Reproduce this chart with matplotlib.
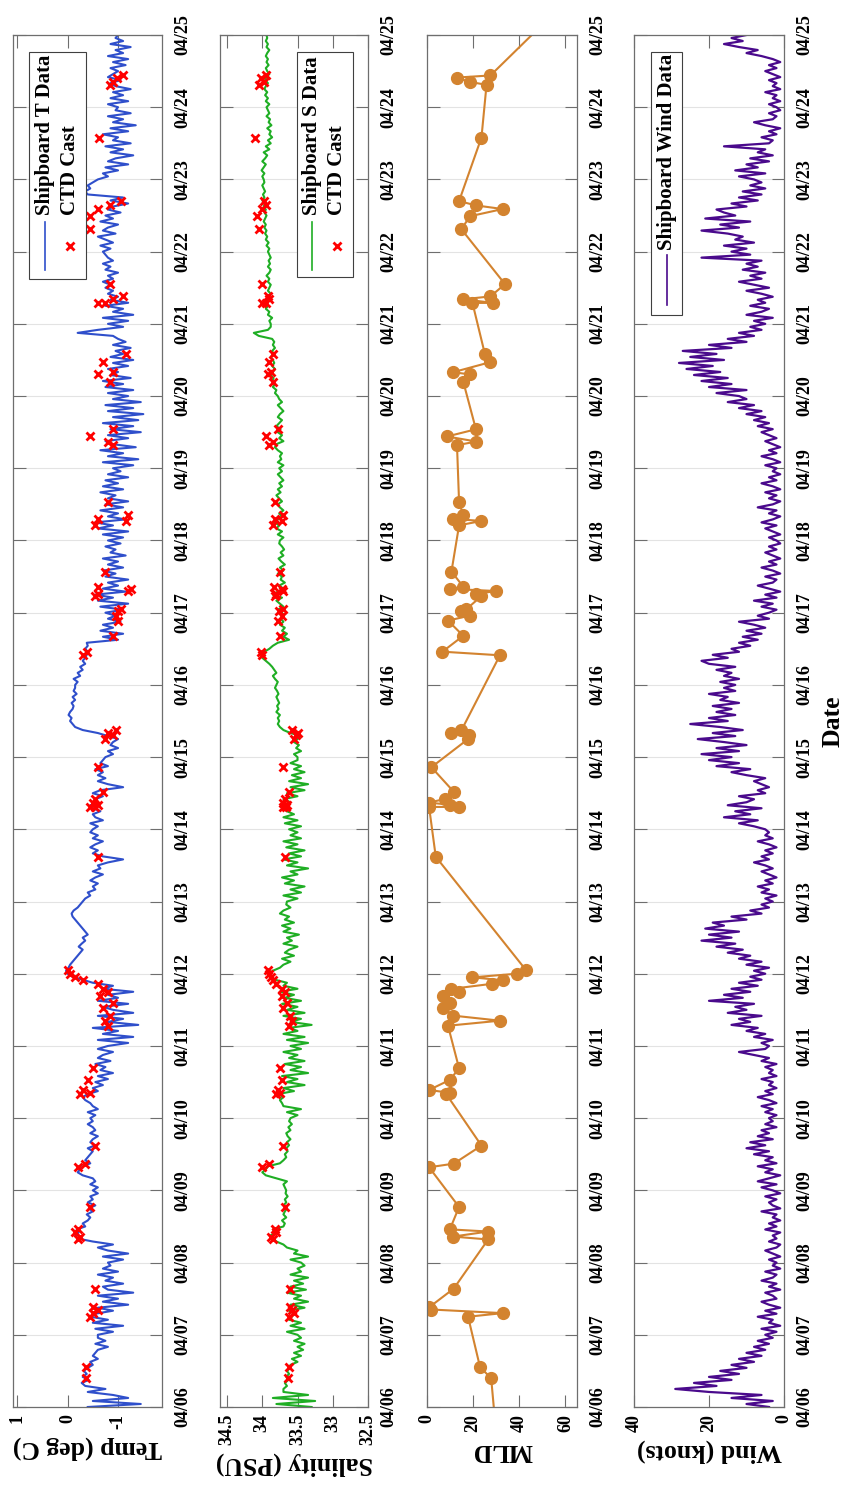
import numpy as np
import matplotlib.pyplot as plt
from matplotlib.patches import Rectangle
from matplotlib.lines import Line2D

plt.rcParams['font.family'] = ['Liberation Serif', 'DejaVu Serif']
plt.rcParams['font.weight'] = 'bold'

# hourly shipboard records, one row per day starting 04/06 00:00
temp_series = [
    -0.4, -1.45, -0.5, -1.2, -0.9, -0.4, -0.75, -0.35, -0.28, -0.42, -0.3, -0.38, -0.32, -0.4, -0.5, -0.45, -0.6, -0.5, -0.55, -0.6, -0.8, -0.55, -0.75, -0.6,
    -0.6, -0.9, -0.55, -1.1, -0.5, -0.8, -0.45, -0.55, -0.9, -0.6, -1.2, -0.7, -1.0, -0.6, -1.3, -0.8, -0.7, -1.1, -0.75, -0.9, -0.6, -1.0, -0.7, -0.85,
    -0.8, -1.1, -0.7, -1.2, -0.8, -0.6, -0.9, -0.5, -0.2, -0.15, -0.22, -0.18, -0.35, -0.3, -0.4, -0.45, -0.38, -0.5, -0.42, -0.55, -0.4, -0.5, -0.45, -0.6,
    -0.5, -0.6, -0.45, -0.55, -0.5, -0.3, -0.2, -0.25, -0.3, -0.45, -0.35, -0.4, -0.45, -0.5, -0.4, -0.55, -0.45, -0.5, -0.6, -0.45, -0.55, -0.5, -0.4, -0.5,
    -0.45, -0.55, -0.4, -0.6, -0.5, -0.45, -0.35, -0.3, -0.4, -0.6, -0.5, -0.7, -0.55, -0.8, -0.6, -0.9, -0.65, -0.75, -0.55, -0.85, -0.6, -0.7, -0.9, -0.6,
    -0.8, -1.2, -0.6, -1.3, -0.7, -1.0, -0.5, -1.4, -0.8, -1.1, -0.6, -1.3, -0.9, -0.7, -1.2, -0.6, -1.0, -0.8, -1.3, -0.7, -0.9, -0.5, -0.3, -0.1,
    0.0, 0.03, -0.02, -0.05, -0.1, -0.15, -0.2, -0.25, -0.3, -0.22, -0.28, -0.35, -0.3, -0.4, -0.35, -0.3, -0.25, -0.2, -0.15, -0.1, -0.08, -0.12, -0.2, -0.25,
    -0.3, -0.35, -0.45, -0.4, -0.55, -0.5, -0.6, -0.45, -0.55, -0.7, -0.5, -0.65, -0.6, -0.8, -1.1, -0.7, -0.5, -0.6, -0.45, -0.55, -0.7, -0.5, -0.6, -0.45,
    -0.5, -0.6, -0.45, -0.7, -0.55, -0.5, -0.65, -0.5, -0.45, -0.6, -0.55, -0.7, -0.5, -0.65, -1.1, -0.8, -0.6, -0.75, -0.6, -0.7, -0.55, -0.8, -0.65, -0.7,
    -0.75, -0.9, -0.8, -1.0, -0.85, -0.9, -1.0, -0.8, -0.6, -0.3, -0.15, -0.1, -0.05, -0.08, -0.02, -0.05, -0.1, -0.12, -0.08, -0.15, -0.1, -0.18, -0.12, -0.15,
    -0.15, -0.2, -0.12, -0.25, -0.2, -0.3, -0.25, -0.35, -0.3, -0.35, -0.38, -0.4, -0.35, -0.4, -0.38, -1.0, -0.7, -1.1, -0.65, -0.9, -0.7, -1.05, -0.8, -0.95,
    -0.75, -1.1, -0.65, -1.2, -0.6, -0.9, -0.55, -1.15, -0.7, -1.0, -0.8, -1.2, -0.75, -0.95, -0.7, -1.1, -0.8, -1.0, -0.7, -1.15, -0.85, -0.95, -0.75, -1.05,
    -0.8, -1.1, -0.7, -1.2, -0.6, -0.9, -0.55, -1.15, -0.8, -1.0, -0.65, -1.1, -0.75, -1.2, -0.8, -0.95, -0.65, -1.1, -0.7, -1.0, -0.75, -1.2, -0.8, -1.05,
    -0.9, -1.3, -0.7, -1.4, -0.8, -1.1, -0.65, -1.35, -0.9, -0.75, -1.2, -0.8, -1.45, -0.85, -1.3, -0.7, -1.4, -0.9, -1.5, -0.8, -1.3, -0.75, -1.45, -0.9,
    -1.2, -0.8, -1.3, -0.75, -1.1, -0.7, -1.25, -0.85, -1.0, -0.8, -1.2, -0.9, -1.3, -0.85, -1.1, -0.95, -1.25, -0.9, -1.15, -1.0, -0.9, -0.2, -0.6, -1.1,
    -0.8, -1.2, -0.7, -1.3, -0.9, -1.1, -0.75, -1.2, -0.85, -1.0, -0.8, -0.9, -0.75, -0.85, -0.7, -0.9, -0.8, -1.0, -0.75, -0.85, -0.7, -0.9, -0.8, -0.75,
    -0.7, -0.85, -0.65, -0.9, -0.75, -0.6, -0.95, -0.7, -0.8, -1.0, -0.65, -0.9, -0.75, -1.05, -0.8, -0.9, -1.2, -0.85, -1.1, -0.4, -0.35, -0.45, -0.4, -0.5,
    -0.6, -0.8, -0.7, -1.0, -0.75, -1.2, -0.8, -0.95, -1.3, -0.85, -1.1, -0.75, -1.25, -0.9, -1.0, -0.7, -1.2, -0.85, -1.35, -0.9, -1.1, -0.8, -1.25, -0.95,
    -1.0, -0.8, -1.2, -0.85, -1.1, -0.9, -1.25, -0.95, -0.85, -1.05, -0.8, -0.9, -1.0, -0.85, -1.15, -0.9, -1.2, -0.8, -1.1, -0.95, -1.25, -0.85, -1.1, -0.95,
    -1.0,
]

sal_series = [
    33.3, 33.8, 33.25, 33.85, 33.35, 33.7, 33.7, 33.65, 33.68, 33.63, 33.66, 33.62, 33.65, 33.6, 33.6, 33.5, 33.58, 33.45, 33.55, 33.42, 33.5, 33.4, 33.55, 33.45,
    33.5, 33.65, 33.4, 33.6, 33.45, 33.62, 33.58, 33.55, 33.62, 33.4, 33.6, 33.35, 33.55, 33.45, 33.65, 33.38, 33.6, 33.42, 33.55, 33.35, 33.6, 33.45, 33.5, 33.4,
    33.45, 33.6, 33.35, 33.55, 33.5, 33.65, 33.7, 33.8, 33.85, 33.88, 33.82, 33.85, 33.7, 33.68, 33.72, 33.66, 33.7, 33.68, 33.65, 33.7, 33.66, 33.68, 33.64, 33.67,
    33.66, 33.68, 33.7, 33.65, 33.8, 33.95, 34.0, 33.95, 33.92, 33.75, 33.7, 33.66, 33.68, 33.64, 33.66, 33.62, 33.65, 33.6, 33.64, 33.66, 33.6, 33.63, 33.58, 33.62,
    33.6, 33.5, 33.65, 33.45, 33.7, 33.72, 33.75, 33.7, 33.78, 33.55, 33.7, 33.4, 33.65, 33.5, 33.72, 33.35, 33.6, 33.45, 33.68, 33.4, 33.62, 33.5, 33.7, 33.45,
    33.6, 33.35, 33.65, 33.4, 33.7, 33.5, 33.62, 33.3, 33.6, 33.45, 33.7, 33.4, 33.65, 33.5, 33.72, 33.45, 33.68, 33.55, 33.75, 33.5, 33.7, 33.65, 33.82, 33.88,
    33.9, 33.85, 33.75, 33.7, 33.6, 33.72, 33.55, 33.68, 33.62, 33.5, 33.7, 33.58, 33.65, 33.48, 33.7, 33.6, 33.72, 33.55, 33.68, 33.62, 33.75, 33.7, 33.6, 33.66,
    33.65, 33.5, 33.7, 33.45, 33.6, 33.4, 33.68, 33.55, 33.72, 33.5, 33.6, 33.35, 33.65, 33.5, 33.7, 33.45, 33.62, 33.4, 33.66, 33.5, 33.7, 33.45, 33.6, 33.5,
    33.62, 33.45, 33.68, 33.5, 33.7, 33.55, 33.65, 33.72, 33.68, 33.6, 33.7, 33.5, 33.65, 33.4, 33.6, 33.35, 33.62, 33.45, 33.58, 33.4, 33.55, 33.45, 33.6, 33.5,
    33.5, 33.55, 33.45, 33.52, 33.48, 33.55, 33.5, 33.45, 33.6, 33.7, 33.75, 33.78, 33.76, 33.78, 33.75, 33.8, 33.77, 33.79, 33.76, 33.78, 33.8, 33.77, 33.79, 33.82,
    33.8, 33.78, 33.82, 33.85, 33.8, 33.83, 33.86, 33.9, 33.95, 34.0, 34.0, 33.97, 33.9, 33.85, 33.78, 33.62, 33.7, 33.65, 33.72, 33.68, 33.75, 33.7, 33.74, 33.69,
    33.72, 33.78, 33.7, 33.75, 33.8, 33.72, 33.85, 33.78, 33.7, 33.76, 33.68, 33.74, 33.72, 33.78, 33.7, 33.75, 33.68, 33.73, 33.77, 33.7, 33.74, 33.69, 33.72, 33.76,
    33.75, 33.7, 33.78, 33.72, 33.8, 33.76, 33.82, 33.78, 33.72, 33.76, 33.7, 33.75, 33.78, 33.72, 33.76, 33.8, 33.74, 33.78, 33.72, 33.76, 33.7, 33.74, 33.78, 33.72,
    33.76, 33.7, 33.78, 33.73, 33.75, 33.72, 33.78, 33.82, 33.8, 33.7, 33.76, 33.72, 33.78, 33.74, 33.8, 33.76, 33.72, 33.78, 33.75, 33.7, 33.74, 33.78, 33.72, 33.76,
    33.78, 33.82, 33.8, 33.85, 33.82, 33.86, 33.84, 33.88, 33.85, 33.82, 33.86, 33.83, 33.85, 33.88, 33.84, 33.86, 33.82, 33.85, 33.83, 33.86, 34.05, 34.12, 33.92, 33.88,
    33.88, 33.9, 33.86, 33.92, 33.9, 33.95, 33.92, 33.98, 33.9, 33.93, 33.88, 33.92, 33.9, 33.88, 33.92, 33.9, 33.94, 33.9, 33.88, 33.92, 33.89, 33.91, 33.88, 33.9,
    33.92, 33.9, 33.94, 33.91, 33.95, 33.93, 33.96, 33.94, 33.97, 33.95, 33.98, 33.96, 33.94, 33.97, 33.95, 33.98, 33.96, 34.0, 33.97, 33.99, 33.96, 33.98, 34.0, 33.97,
    33.98, 34.0, 33.97, 34.01, 33.98, 33.95, 34.0, 33.96, 33.93, 33.98, 33.9, 33.95, 33.88, 33.92, 33.86, 33.9, 33.88, 33.93, 33.87, 33.91, 33.89, 33.94, 33.9, 33.92,
    33.94, 33.9, 33.95, 33.92, 33.96, 33.93, 33.97, 33.95, 33.92, 33.96, 33.94, 33.9, 33.93, 33.95, 33.91, 33.94, 33.92, 33.95, 33.93, 33.9, 33.94, 33.92, 33.95, 33.93,
    33.94,
]

wind_series = [
    4, 10, 3, 14, 6, 20, 29, 18, 24, 14, 20, 12, 17, 10, 14, 8, 12, 6, 10, 5, 8, 4, 7, 3,
    5, 2, 6, 1, 4, 3, 7, 2, 5, 1, 4, 6, 2, 3, 5, 1, 4, 2, 6, 3, 2, 5, 1, 3,
    2, 4, 1, 3, 5, 2, 1, 4, 2, 3, 1, 5, 2, 4, 1, 3, 2, 6, 1, 3, 4, 2, 5, 1,
    3, 6, 2, 7, 4, 1, 5, 3, 7, 2, 5, 3, 8, 4, 10, 5, 9, 3, 7, 4, 6, 2, 5, 3,
    4, 2, 5, 3, 6, 2, 4, 7, 3, 5, 2, 4, 3, 6, 2, 4, 3, 5, 2, 6, 4, 8, 12, 5,
    4, 6, 3, 8, 5, 10, 7, 14, 9, 12, 6, 15, 10, 13, 8, 20, 11, 16, 9, 14, 7, 12, 6, 9,
    5, 8, 4, 10, 6, 12, 9, 15, 11, 18, 13, 22, 14, 20, 12, 21, 16, 19, 10, 14, 6, 9, 4, 6,
    3, 5, 2, 6, 4, 7, 3, 5, 2, 4, 6, 3, 5, 8, 4, 6, 3, 5, 2, 4, 7, 3, 5, 4,
    5, 8, 12, 7, 16, 9, 13, 6, 15, 10, 8, 12, 5, 7, 4, 6, 8, 5, 10, 14, 9, 18, 12, 20,
    14, 22, 12, 18, 10, 16, 23, 13, 19, 11, 17, 25, 15, 20, 13, 18, 14, 19, 12, 17, 15, 20, 13, 16,
    13, 17, 12, 16, 14, 18, 13, 20, 22, 15, 19, 12, 14, 9, 12, 7, 11, 6, 10, 5, 8, 12, 4, 7,
    4, 2, 6, 3, 8, 2, 5, 1, 4, 7, 3, 2, 5, 1, 3, 6, 2, 4, 1, 3, 5, 2, 4, 1,
    2, 4, 1, 3, 5, 2, 6, 3, 1, 4, 2, 7, 3, 1, 4, 2, 5, 1, 3, 6, 2, 4, 1, 3,
    2, 5, 1, 3, 6, 2, 4, 1, 3, 5, 2, 4, 6, 3, 7, 4, 8, 5, 10, 6, 12, 8, 15, 10,
    12, 18, 10, 20, 14, 22, 15, 24, 17, 26, 19, 28, 16, 25, 18, 27, 14, 20, 10, 15, 8, 12, 6, 9,
    5, 8, 3, 10, 6, 4, 9, 5, 7, 3, 6, 10, 4, 8, 12, 6, 9, 5, 11, 7, 10, 6, 22, 9,
    14, 10, 16, 8, 13, 11, 15, 22, 12, 17, 9, 21, 13, 16, 18, 10, 14, 7, 12, 6, 11, 5, 9, 6,
    8, 12, 5, 13, 7, 10, 4, 9, 3, 7, 5, 16, 4, 3, 6, 2, 4, 1, 5, 8, 3, 2, 4, 1,
    2, 4, 1, 3, 2, 5, 1, 3, 2, 4, 1, 3, 5, 2, 4, 1, 3, 6, 10, 7, 12, 16, 11, 14,
    10,
]

# CTD casts: day of April, mixed layer depth, cast temperature, cast salinity
cast_day = [5.8, 6.40, 6.55, 7.25, 7.30, 7.35, 7.38, 7.64, 8.32, 8.36, 8.43, 8.46, 8.77,
            9.32, 9.37, 9.62, 10.33, 10.35, 10.39, 10.53, 10.69, 11.28, 11.35, 11.42, 11.53,
            11.60, 11.69, 11.75, 11.79, 11.86, 11.91, 11.95, 12.00, 12.05, 13.62, 14.31, 14.31,
            14.34, 14.37, 14.42, 14.52, 14.86, 15.25, 15.30, 15.33, 15.37, 16.41, 16.46, 16.68,
            16.89, 16.96, 17.02, 17.05, 17.23, 17.26, 17.30, 17.33, 17.36, 17.57, 18.21, 18.27,
            18.30, 18.35, 18.53, 19.32, 19.37, 19.44, 19.54, 20.20, 20.30, 20.33, 20.47, 20.58,
            21.29, 21.29, 21.34, 21.38, 21.55, 22.31, 22.49, 22.59, 22.64, 22.70, 23.58, 24.31,
            24.35, 24.41, 24.44, 25.3]
cast_mld = [29.5, 27.8, 23.0, 17.8, 32.8, 1.9, 0.9, 11.6, 26.5, 11.3, 26.5, 9.9, 13.9,
            0.9, 11.6, 23.6, 8.4, 10.1, 0.9, 9.9, 13.9, 9.1, 31.6, 11.3, 7.0,
            10.1, 7.0, 13.9, 10.6, 28.0, 32.8, 19.7, 38.8, 42.9, 3.8, 0.9, 13.9,
            9.9, 0.9, 7.7, 11.6, 1.9, 17.8, 18.3, 10.6, 14.9, 31.6, 6.7, 15.7,
            9.1, 18.6, 14.9, 17.1, 23.6, 21.4, 29.9, 9.9, 15.7, 10.6, 13.9, 23.6,
            11.3, 15.7, 13.9, 13.0, 21.4, 8.7, 21.2, 15.7, 18.6, 11.3, 27.5, 25.1,
            19.7, 28.7, 15.7, 27.5, 33.8, 14.9, 18.6, 32.8, 21.2, 13.9, 23.6, 25.8,
            18.6, 12.8, 27.5, 55.0]
cast_temp = [-0.4, -0.37, -0.37, -0.45, -0.5, -0.6, -0.5, -0.55, -0.2, -0.25, -0.15, -0.2, -0.45,
             -0.2, -0.35, -0.55, -0.25, -0.45, -0.3, -0.4, -0.5, -0.8, -0.75, -0.85, -0.7,
             -0.9, -0.65, -0.8, -0.7, -0.6, -0.3, -0.15, -0.05, 0.0, -0.6, -0.55, -0.45,
             -0.6, -0.5, -0.55, -0.7, -0.6, -0.75, -0.9, -0.8, -0.95, -0.3, -0.38, -0.9,
             -1.0, -0.95, -1.0, -1.05, -0.55, -0.6, -1.2, -1.25, -0.6, -0.75, -0.55, -1.15,
             -0.6, -1.2, -0.8, -0.9, -0.8, -0.45, -0.9, -0.85, -0.6, -0.9, -0.7, -1.15,
             -0.6, -0.75, -0.9, -1.1, -0.85, -0.45, -0.45, -0.6, -0.85, -1.05, -0.63, -0.85,
             -0.9, -0.97, -1.1, -1.0]
cast_sal = [33.6, 33.64, 33.62, 33.62, 33.55, 33.58, 33.6, 33.6, 33.85, 33.88, 33.8, 33.82, 33.68,
            34.0, 33.9, 33.7, 33.8, 33.75, 33.78, 33.72, 33.75, 33.62, 33.58, 33.6, 33.7,
            33.65, 33.72, 33.68, 33.72, 33.8, 33.85, 33.88, 33.9, 33.92, 33.68, 33.7, 33.66,
            33.65, 33.7, 33.68, 33.62, 33.7, 33.55, 33.52, 33.5, 33.58, 34.0, 34.02, 33.75,
            33.78, 33.72, 33.76, 33.7, 33.82, 33.8, 33.7, 33.72, 33.84, 33.75, 33.85, 33.72,
            33.82, 33.7, 33.82, 33.9, 33.85, 33.95, 33.78, 33.85, 33.92, 33.88, 33.9, 33.85,
            34.0, 33.95, 33.9, 33.92, 34.0, 34.05, 34.08, 34.0, 33.95, 33.98, 34.1, 34.05,
            33.98, 34.02, 33.95, 33.9]

day_ticks = list(range(6, 26))
day_labels = ['04/%02d' % d for d in day_ticks]

temp_ticks, temp_labels = [-1, 0, 1], ['-1', '0', '1']
sal_ticks, sal_labels = [32.5, 33, 33.5, 34, 34.5], ['32.5', '33', '33.5', '34', '34.5']
mld_ticks, mld_labels = [0, 20, 40, 60], ['0', '20', '40', '60']
wind_ticks, wind_labels = [0, 20, 40], ['0', '20', '40']

blue = '#2f4fcb'
green = '#1fae24'
orange = '#d3832f'
purple = '#4a0a8c'
grey = '#6e6e6e'

hours = lambda s: 6 + np.arange(len(s)) / 24.0

fig = plt.figure(figsize=(8.46, 14.95), dpi=100)
W, H = 846.0, 1495.0
top_px, bot_px = 35, 1407
panels = [(13, 149), (220, 148), (427, 150), (634, 150)]
axes = [fig.add_axes([l / W, 1 - bot_px / H, w / W, (bot_px - top_px) / H]) for l, w in panels]


def style(ax, ticks, labels, lim, xlabel):
    ax.set_ylim(6, 25)
    ax.set_xlim(*lim)
    ax.set_yticks(day_ticks)
    ax.set_yticklabels(day_labels, rotation=90, va='center', ha='left')
    ax.set_xticks(ticks)
    ax.set_xticklabels(labels, rotation=90, va='top', ha='center')
    ax.tick_params(axis='both', direction='in', length=9, width=0.8, color=grey,
                   labelsize=13, top=True, bottom=True, left=True, right=True,
                   labelleft=False, labelright=True)
    ax.tick_params(axis='y', pad=9)
    ax.tick_params(axis='x', pad=5)
    ax.yaxis.grid(True, color='#e3e3e3', lw=0.8)
    ax.set_axisbelow(True)
    for sp in ax.spines.values():
        sp.set_color(grey)
        sp.set_linewidth(0.9)
    ax.set_xlabel(xlabel, rotation=180, fontsize=18.5, fontweight='bold', labelpad=5)


def frac(ypix):
    return 1 - (ypix - top_px) / (bot_px - top_px)


def legend_box(ax, x0, x1, y0pix, y1pix, entries, text_pix, sample_pix):
    y0, y1 = frac(y1pix), frac(y0pix)
    ax.add_patch(Rectangle((x0, y0), x1 - x0, y1 - y0, transform=ax.transAxes,
                           facecolor='white', edgecolor='#404040', lw=0.8, zorder=6))
    s_hi, s_lo = frac(sample_pix[0]), frac(sample_pix[1])
    for x, label, kind, color in entries:
        if kind == 'line':
            ax.add_line(Line2D([x, x], [s_lo, s_hi], transform=ax.transAxes,
                               color=color, lw=1.2, zorder=7))
        else:
            ax.add_line(Line2D([x], [(s_lo + s_hi) / 2], transform=ax.transAxes,
                               marker='x', ls='none', color=color, ms=6, mew=2, zorder=7))
        ax.text(x, frac(text_pix), label, rotation=90, ha='center', va='bottom',
                transform=ax.transAxes, fontsize=15, fontweight='bold', zorder=7)


ax_t, ax_s, ax_m, ax_w = axes

ax_t.plot(temp_series, hours(temp_series), color=blue, lw=1.5)
ax_t.plot(cast_temp, cast_day, 'x', color='red', ms=6, mew=2)
style(ax_t, temp_ticks, temp_labels, (1.08, -1.87), 'Temp (deg C)')
legend_box(ax_t, 0.107, 0.49, 52, 279,
           [(0.215, 'Shipboard T Data', 'line', blue), (0.383, 'CTD Cast', 'x', 'red')],
           215, (222, 270))

ax_s.plot(sal_series, hours(sal_series), color=green, lw=1.5)
ax_s.plot(cast_sal, cast_day, 'x', color='red', ms=6, mew=2)
style(ax_s, sal_ticks, sal_labels, (34.6, 32.5), 'Salinity (PSU)')
legend_box(ax_s, 0.52, 0.90, 52, 277,
           [(0.62, 'Shipboard S Data', 'line', green), (0.79, 'CTD Cast', 'x', 'red')],
           215, (222, 270))

ax_m.plot(cast_mld, cast_day, '-o', color=orange, lw=1.5, ms=8.5, mec=orange)
style(ax_m, mld_ticks, mld_labels, (0, 65), 'MLD')

ax_w.plot(wind_series, hours(wind_series), color=purple, lw=1.6)
style(ax_w, wind_ticks, wind_labels, (40, 0), 'Wind (knots)')
legend_box(ax_w, 0.113, 0.32, 52, 315,
           [(0.22, 'Shipboard Wind Data', 'line', purple)],
           250, (255, 305))
ax_w.yaxis.set_label_position('right')
ax_w.set_ylabel('Date', rotation=90, fontsize=18.5, fontweight='bold', labelpad=6)

fig.savefig('out.png', dpi=100)
